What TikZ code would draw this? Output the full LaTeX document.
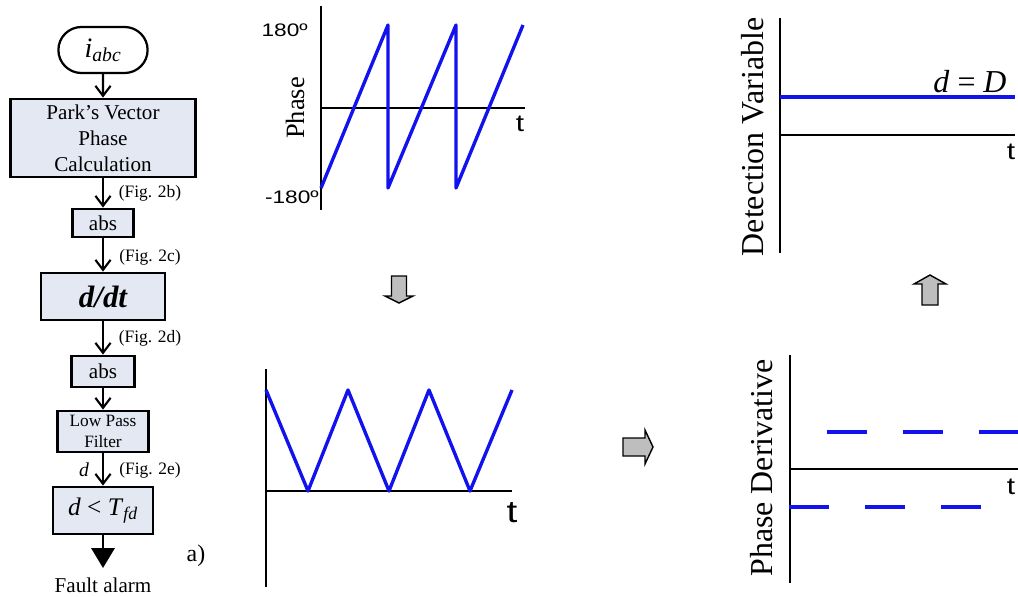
\documentclass[tikz,border=0pt]{standalone}
\usepackage{fontspec}
\setmainfont{Liberation Serif}
\newfontfamily\axisfont[FakeStretch=1.25]{Liberation Sans}
\usepackage{tikz}
\usetikzlibrary{arrows.meta,positioning,shapes.misc}
\definecolor{boxfill}{HTML}{E4E8F2}
\definecolor{sigblue}{HTML}{1212EE}
\definecolor{arrgray}{HTML}{BEBEBE}

\begin{document}
\begin{tikzpicture}[
  x=0.025cm, y=-0.025cm,
  every node/.style={align=center},
  block/.style={draw=black,line width=2pt,fill=boxfill,inner sep=1pt},
  term/.style={rounded rectangle,draw=black,line width=1.6pt,fill=white,
               minimum width=2.3cm,minimum height=1.15cm,inner sep=1pt},
  flow/.style={-{Straight Barb[length=2.5mm,width=3.8mm]},line width=1.5pt},
  alarm/.style={-{Triangle[length=5mm,width=5.8mm]},line width=1.9pt},
  note/.style={font=\fontsize{12.4}{15}\selectfont,inner sep=0pt},
  axis/.style={line width=2pt,black},
  sig/.style={line width=2.4pt,sigblue,line join=round},
  sigdash/.style={sig,dash pattern=on 28.4pt off 25.6pt},
  blockarr/.style={draw=black,line width=1pt,fill=arrgray},
  ylab/.style={rotate=90,inner sep=0pt},
  tlab/.style={font=\axisfont\fontsize{17}{20}\selectfont,inner sep=0pt}
]
\useasboundingbox (0,0) rectangle (1018,597);

% flow chart
\node[term] (iabc) at (103,50)
  {\fontsize{20}{24}\selectfont\textit{i}\textsubscript{\textit{abc}}};
\node[block,minimum width=4.625cm,minimum height=1.95cm,
      font=\fontsize{15}{18.5}\selectfont] (park) at (103,138)
  {Park's Vector\\Phase\\Calculation};
\node[block,minimum width=1.525cm,minimum height=0.7cm,
      font=\fontsize{15}{18}\selectfont] (abs1) at (103,223) {abs};
\node[block,minimum width=3.1cm,minimum height=1.175cm,
      font=\fontsize{22}{26}\selectfont\bfseries\itshape] (ddt) at (103,296.5) {d/dt};
\node[block,minimum width=1.575cm,minimum height=0.775cm,
      font=\fontsize{15}{18}\selectfont] (abs2) at (103,371.5) {abs};
\node[block,minimum width=2.275cm,minimum height=1.025cm,
      font=\fontsize{12.3}{15}\selectfont] (lpf) at (103,431.5) {Low Pass\\Filter};
\node[block,minimum width=2.5cm,minimum height=1.175cm,
      font=\fontsize{18}{22}\selectfont] (cmp) at (103,510.5)
  {\textit{d} < \textit{T}\textsubscript{\textit{fd}}};
\coordinate (alarmtip) at (103,568);
\node[font=\fontsize{15}{18}\selectfont] (fault) at (103,585) {Fault alarm};
\node[font=\fontsize{17}{20}\selectfont] (tag) at (196,556) {a)};

\draw[flow]  (iabc) -- (park);
\draw[flow]  (park) -- (abs1);
\draw[flow]  (abs1) -- (ddt);
\draw[flow]  (ddt)  -- (abs2);
\draw[flow]  (abs2) -- (lpf);
\draw[flow]  (lpf)  -- (cmp);
\draw[alarm] (cmp)  -- (alarmtip);

\node[note] (f2b) at (150,193) {(Fig. 2b)};
\node[note] (f2c) at (150,257) {(Fig. 2c)};
\node[note] (f2d) at (150,338) {(Fig. 2d)};
\node[note] (f2e) at (150,470) {(Fig. 2e)};
\node[font=\fontsize{14}{17}\selectfont\itshape,inner sep=0pt] (dlab) at (84,470) {d};

% phase (top middle)
\draw[axis] (321,6) -- (321,210);
\draw[axis] (321,108) -- (525,108);
\draw[sig] (321,188) -- (388,25) -- (388,188) -- (456,25) -- (456,188) -- (523,25);
\node[font=\axisfont\fontsize{12.9}{15}\selectfont,inner sep=0pt,anchor=east] (pmax) at (308,30) {180º};
\node[font=\axisfont\fontsize{12.9}{15}\selectfont,inner sep=0pt,anchor=east] (pmin) at (319,197) {-180º};
\node[ylab,font=\fontsize{18.8}{22}\selectfont] (phlab) at (295,108) {Phase};
\node[tlab] (t1) at (520,124) {t};

\draw[blockarr] (391.5,276) -- (406.5,276) -- (406.5,296) -- (413,296) -- (399,303)
  -- (385,296) -- (391.5,296) -- cycle;

% abs of phase (bottom middle)
\draw[axis] (266,369) -- (266,587);
\draw[axis] (266,491) -- (512,491);
\draw[sig] (266,390) -- (308,491) -- (348,390) -- (389,491) -- (429,390) -- (470,491) -- (512,390);
\node[tlab,font=\axisfont\fontsize{22}{26}\selectfont] (t2) at (512,513) {t};

\draw[blockarr] (623,438) -- (645,438) -- (645,430) -- (653,447) -- (645,464)
  -- (645,456) -- (623,456) -- cycle;

% phase derivative (bottom right)
\draw[axis] (790,355) -- (790,583);
\draw[axis] (790,469) -- (1018,469);
\draw[sigdash] (827,432) -- (1018,432);
\draw[sigdash] (789,507) -- (981,507);
\node[ylab,font=\fontsize{22.7}{26}\selectfont] (pdlab) at (762,468) {Phase Derivative};
\node[tlab] (t3) at (1011,487) {t};

\draw[blockarr] (930,275) -- (946,284) -- (938,284) -- (938,305) -- (922,305)
  -- (922,284) -- (914,284) -- cycle;

% detection variable (top right)
\draw[axis] (780,18) -- (780,253);
\draw[axis] (780,135) -- (1015,135);
\draw[sig] (780,97) -- (1015,97);
\node[font=\fontsize{22.7}{26}\selectfont,inner sep=0pt] (dD) at (970,82) {\textit{d} = \textit{D}};
\node[ylab,font=\fontsize{22.7}{26}\selectfont] (dvlab) at (753,137) {Detection Variable};
\node[tlab] (t4) at (1011,152) {t};
\end{tikzpicture}
\end{document}
